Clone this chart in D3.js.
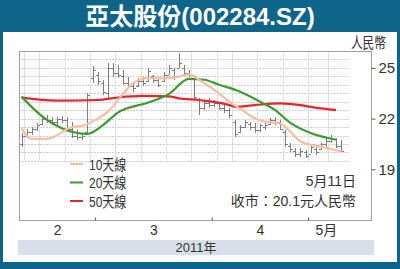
<!DOCTYPE html>
<html>
<head>
<meta charset="utf-8">
<script src="https://cdnjs.cloudflare.com/ajax/libs/d3/7.8.5/d3.min.js"></script>
<style>
body { margin: 0; }
text { font-family: "Liberation Sans", "Noto Sans CJK TC", sans-serif; fill: #333; }
.axis path { display: none; }
.axis line { stroke: #555; }
</style>
</head>
<body>
<svg class="chart"></svg>
<script>

// Basic dimensions:

var width = 400,
	height = 269,
	plot = {left: 19, right: 371, top: 51, bottom: 220},
	gridRight = 350,
	tickLen = 2;

// Trading days on the chart (2011, month-day):

var tradeDays = ["02-01","02-09","02-10","02-11","02-14","02-15","02-16","02-17","02-18","02-21",
	"02-22","02-23","02-24","02-25","02-28",
	"03-01","03-02","03-03","03-04","03-07","03-08","03-09","03-10","03-11","03-14",
	"03-15","03-16","03-17","03-18","03-21","03-22","03-23","03-24","03-25","03-28",
	"03-29","03-30","03-31",
	"04-01","04-06","04-07","04-08","04-11","04-12","04-13","04-14","04-15","04-18",
	"04-19","04-20","04-21","04-22","04-25","04-26","04-27","04-28","04-29",
	"05-03","05-04","05-05","05-06","05-09","05-10","05-11"];

// Daily prices (yuan):

var high = [21.15,21.38,21.50,21.74,22.15,22.21,22.09,22.09,22.15,22.09,
	21.80,21.33,21.15,23.51,25.11,24.76,24.28,25.29,25.29,25.17,
	24.88,24.46,24.11,24.40,24.46,24.99,24.58,24.40,24.76,25.17,
	24.99,25.88,25.17,24.88,24.58,23.22,23.10,23.22,23.10,22.98,
	22.80,22.63,21.92,21.62,21.92,21.80,21.74,21.70,21.74,22.04,
	22.09,21.92,21.33,20.56,20.26,20.26,20.14,20.44,20.32,20.56,
	20.85,21.03,20.85,20.73];

var low = [20.32,20.85,21.03,21.27,21.62,21.74,21.62,21.62,21.74,21.21,
	20.85,20.73,20.73,21.15,24.11,23.99,23.40,23.22,24.46,24.40,
	23.99,23.81,23.57,23.87,23.93,24.17,24.11,23.87,24.17,24.58,
	24.28,24.99,24.58,24.46,23.10,22.21,22.51,22.63,22.69,22.51,
	22.33,22.04,20.91,21.15,21.44,21.33,21.15,21.20,21.33,21.62,
	21.62,21.33,20.32,20.02,19.73,19.73,19.67,19.96,19.85,20.14,
	20.32,20.56,20.26,20.05];

var open = [20.50,21.00,21.20,21.40,21.70,22.00,21.90,21.80,22.00,21.90,
	21.40,21.00,20.90,21.20,24.40,24.60,24.10,23.50,25.00,24.70,
	24.50,24.10,23.90,23.90,24.20,24.20,24.50,24.30,24.20,24.60,
	24.90,25.00,25.00,24.70,24.50,23.10,22.60,22.90,22.80,22.90,
	22.60,22.50,21.80,21.20,21.50,21.70,21.50,21.30,21.50,21.70,
	21.90,21.80,21.20,20.40,20.10,19.90,20.00,19.90,20.20,20.20,
	20.50,20.70,20.80,20.40];

var close = [21.00,21.20,21.40,21.60,22.00,21.90,21.80,22.00,21.90,21.40,
	21.00,20.90,21.00,23.40,24.90,24.20,23.60,25.00,24.70,24.60,
	24.10,23.90,23.80,24.20,24.10,24.80,24.30,24.00,24.60,25.00,
	24.50,25.30,24.70,24.60,23.30,22.60,22.90,22.80,22.90,22.60,
	22.50,22.20,21.10,21.50,21.80,21.50,21.30,21.60,21.60,21.90,
	21.80,21.40,20.50,20.20,19.90,20.10,19.80,20.30,20.00,20.50,
	20.70,20.80,20.40,20.10];

// Moving averages, read at a few days (day index, value):

var ma10Days = [0,2,5,10,12,15,17,20,22,25,28,31,33,35,38,41,43,46,48,51,53,55,59,63],
	ma10 = [21.43,20.80,20.80,21.50,21.58,22.00,22.40,23.45,24.10,24.40,24.38,24.48,24.62,24.30,
		23.70,23.00,22.60,22.02,21.82,21.70,21.22,20.65,20.34,20.05];

var ma20Days = [0,4,13,16,19,25,29,33,36,39,43,47,50,53,57,62],
	ma20 = [23.30,22.15,21.10,21.60,22.35,22.95,23.45,24.35,24.30,24.00,23.60,23.00,22.50,21.75,21.15,20.75];

var ma50Days = [0,7,15,19,24,29,31,35,41,42,46,51,55,59,62],
	ma50 = [23.24,23.06,23.10,23.25,23.34,23.32,23.20,23.10,22.80,22.70,22.80,22.90,22.80,22.60,22.50];

var yTicks = [19, 22, 25],
	yDomain = [16, 26],
	monthLabels = ["2", "3", "4", "5月"],
	legendLabels = ["10天線", "20天線", "50天線"],
	legendColors = ["#f8bda3", "#3c9b31", "#e8232b"];

// Work out week and month boundaries from the dates:

var dates = tradeDays.map(function(s) { return new Date("2011-" + s + "T00:00:00"); }),
	weekStarts = [],
	monthStarts = [0];

dates.forEach(function(d, i) {
	if (i == 0) { return; }
	if (+d3.timeMonday.floor(d) != +d3.timeMonday.floor(dates[i-1])) { weekStarts.push(i); }
	if (d.getMonth() != dates[i-1].getMonth()) { monthStarts.push(i); }
});

var monthMids = monthStarts.map(function(s, k) {
	var e = k < monthStarts.length - 1 ? monthStarts[k+1] : dates.length;
	return (s + e - 1) / 2;
});

// Scales:

var x = d3.scaleLinear()
	.domain([-0.5, 68.9])
	.range([plot.left, plot.right]);

var y = d3.scaleLinear()
	.domain(yDomain)
	.range([plot.bottom, plot.top]);

var chart = d3.select(".chart")
	.attr("width", width)
	.attr("height", height);

// Frame and title:

chart.append("rect")
	.attr("width", width)
	.attr("height", height)
	.style("fill", "#0e6489");

chart.append("rect")
	.attr("x", 3)
	.attr("y", 32)
	.attr("width", 394)
	.attr("height", 230)
	.style("fill", "#fff");

chart.append("text")
	.attr("x", width / 2)
	.attr("y", 25)
	.style("text-anchor", "middle")
	.style("font-size", "24px")
	.style("font-weight", "bold")
	.style("fill", "#fff")
	.text("亞太股份(002284.SZ)");

function label(x0, y0, str, size, anchor, squeeze) {

// Put a text at x0,y0, optionally squeezed sideways

	return chart.append("text")
		.attr("transform", "translate(" + x0 + "," + y0 + ") scale(" + (squeeze || 1) + ",1)")
		.style("font-size", size + "px")
		.style("text-anchor", anchor || "start")
		.text(str);
}

// Grid: dotted price lines every 0.5, weekly vertical lines:

var gridTop = plot.top,
	gridBottom = y(19.5);

chart.selectAll(".hgrid")
	.data(d3.range(19.5, 25.51, 0.5))
.enter().append("line")
	.attr("x1", plot.left)
	.attr("x2", gridRight)
	.attr("y1", function(d) { return Math.round(y(d)) + 0.5; })
	.attr("y2", function(d) { return Math.round(y(d)) + 0.5; })
	.style("stroke", "#cfcfcf")
	.style("stroke-dasharray", "2,1");

chart.selectAll(".vgrid")
	.data(weekStarts)
.enter().append("line")
	.attr("x1", function(d) { return Math.round(x(d - 0.5)) + 0.5; })
	.attr("x2", function(d) { return Math.round(x(d - 0.5)) + 0.5; })
	.attr("y1", gridTop)
	.attr("y2", gridBottom)
	.style("stroke", "#e0e0e0");

// Plot box:

chart.append("rect")
	.attr("x", plot.left + 0.5)
	.attr("y", plot.top + 0.5)
	.attr("width", plot.right - plot.left)
	.attr("height", plot.bottom - plot.top)
	.style("fill", "none")
	.style("stroke", "#a0a0a0");

// Price bars (high-low with open tick left, close tick right):

var bars = chart.selectAll(".bar")
	.data(tradeDays)
.enter().append("g")
	.attr("class", "bar")
	.style("stroke", "#7d7d7d")
	.style("stroke-width", 1);

bars.append("line")
	.attr("x1", function(d, i) { return Math.round(x(i)) + 0.5; })
	.attr("x2", function(d, i) { return Math.round(x(i)) + 0.5; })
	.attr("y1", function(d, i) { return y(high[i]); })
	.attr("y2", function(d, i) { return y(low[i]); });

bars.append("line")
	.attr("x1", function(d, i) { return Math.round(x(i)) - tickLen; })
	.attr("x2", function(d, i) { return Math.round(x(i)); })
	.attr("y1", function(d, i) { return Math.round(y(open[i])) + 0.5; })
	.attr("y2", function(d, i) { return Math.round(y(open[i])) + 0.5; });

bars.append("line")
	.attr("x1", function(d, i) { return Math.round(x(i)) + 1; })
	.attr("x2", function(d, i) { return Math.round(x(i)) + 1 + tickLen; })
	.attr("y1", function(d, i) { return Math.round(y(close[i])) + 0.5; })
	.attr("y2", function(d, i) { return Math.round(y(close[i])) + 0.5; });

// Moving average lines:

var maLine = d3.line()
	.x(function(d) { return x(d[0]); })
	.y(function(d) { return y(d[1]); })
	.curve(d3.curveMonotoneX);

[[ma50Days, ma50, legendColors[2]], [ma20Days, ma20, legendColors[1]], [ma10Days, ma10, legendColors[0]]]
	.forEach(function(m) {
		chart.append("path")
			.datum(m[0].map(function(d, i) { return [d, m[1][i]]; }))
			.attr("d", maLine)
			.style("fill", "none")
			.style("stroke", m[2])
			.style("stroke-width", 2.2);
	});

// Axes:

var yAxis = d3.axisRight(y)
	.tickValues(yTicks)
	.tickSize(4)
	.tickPadding(3);

chart.append("g")
	.attr("class", "axis")
	.attr("transform", "translate(" + (plot.right + 0.5) + ",0)")
	.call(yAxis)
	.selectAll("text")
	.style("font-size", "15px");

var monthTicks = d3.axisBottom(x)
	.tickValues(monthStarts.slice(1).map(function(d) { return d - 0.5; }))
	.tickSize(-3)
	.tickFormat("");

chart.append("g")
	.attr("class", "axis")
	.attr("transform", "translate(0," + (plot.bottom + 0.5) + ")")
	.call(monthTicks);

var monthAxis = d3.axisBottom(x)
	.tickValues(monthMids)
	.tickSize(0)
	.tickPadding(5)
	.tickFormat(function(d, i) { return monthLabels[i]; });

chart.append("g")
	.attr("class", "axis")
	.attr("transform", "translate(0," + plot.bottom + ")")
	.call(monthAxis)
	.selectAll("text")
	.style("font-size", "14px");

label(386, 48, "人民幣", 15, "end", 0.78);

// Year band:

chart.append("rect")
	.attr("x", 18)
	.attr("y", 240)
	.attr("width", 356)
	.attr("height", 15)
	.style("fill", "#d7e0ea");

label(196, 252, "2011年", 13, "middle");

// Legend:

legendLabels.forEach(function(l, i) {
	var ly = 164 + i * 18.5;
	chart.append("line")
		.attr("x1", 70)
		.attr("x2", 83)
		.attr("y1", ly)
		.attr("y2", ly)
		.style("stroke", legendColors[i])
		.style("stroke-width", 2);
	label(89, ly + 5.5, l, 15, "start", 0.8);
});

// Closing note:

label(356, 186, "5月11日", 14, "end");
label(356, 206, "收市：" + close[close.length - 1].toFixed(1) + "元人民幣", 14, "end");

</script>
</body>
</html>
